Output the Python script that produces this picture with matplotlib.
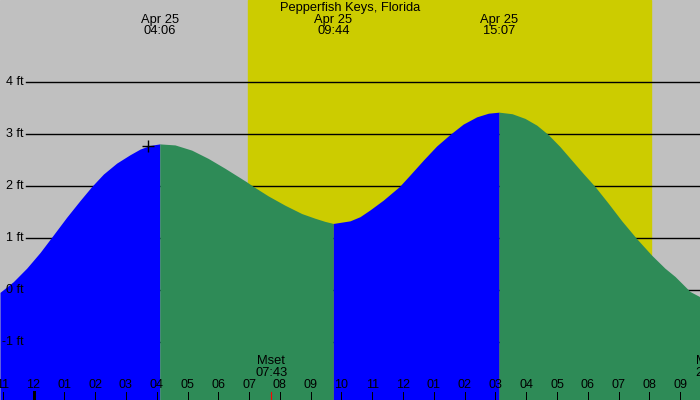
import matplotlib.pyplot as plt
import numpy as np

# tide curve (hours from midnight Apr 25, feet)
hours = [-1.088, -0.656, -0.221, 0.211, 0.557, 1.078, 1.51, 1.89, 2.27, 2.70,
         3.13, 3.46, 3.78, 4.1,
         4.594, 5.136, 5.675, 6.218, 6.92, 7.14, 7.62, 8.166, 8.71, 9.14, 9.46, 9.733,
         10.276, 10.60, 10.925, 11.36, 11.88, 12.22, 12.66, 13.09, 13.52, 13.95,
         14.39, 14.77, 15.117,
         15.54, 15.958, 16.34, 16.71, 17.09, 17.47, 17.85, 18.23, 18.66, 19.10,
         19.58, 20.07, 20.50, 20.83, 21.32, 21.64]
heights = [-0.045, 0.16, 0.42, 0.72, 0.99, 1.40, 1.72, 1.99, 2.23, 2.44,
           2.60, 2.71, 2.78, 2.81,
           2.79, 2.69, 2.53, 2.34, 2.08, 1.99, 1.81, 1.63, 1.47, 1.38, 1.32, 1.28,
           1.33, 1.41, 1.54, 1.73, 1.99, 2.21, 2.50, 2.77, 2.99, 3.19,
           3.33, 3.40, 3.42,
           3.39, 3.30, 3.17, 2.99, 2.76, 2.50, 2.24, 1.99, 1.67, 1.33,
           0.99, 0.67, 0.42, 0.26, -0.03, -0.13]

# high / low events
event_hours = [4.1, 9.733, 15.117]
event_dates = ['Apr 25', 'Apr 25', 'Apr 25']
event_times = ['04:06', '09:44', '15:07']

sunrise = 6.97
sunset = 20.05

moon_hours = [7.717, 22.03]
moon_names = ['Mset', 'Mrise']
moon_times = ['07:43', '22:02']

now_hour = 3.72
now_height = 2.77

tick_hours = list(range(-1, 22))
tick_labels = ['11', '12', '01', '02', '03', '04', '05', '06', '07', '08', '09', '10',
               '11', '12', '01', '02', '03', '04', '05', '06', '07', '08', '09']
ft_levels = [4, 3, 2, 1, 0, -1]

title = 'Pepperfish Keys, Florida'

plt.rcParams['font.family'] = ['Liberation Sans', 'DejaVu Sans']
fs = 9.3

fig = plt.figure(figsize=(7, 4), dpi=100)
ax = fig.add_axes([0, 0, 1, 1])
x0, x1 = -1.088, 21.64
y0, y1 = -2.115, 5.577
ax.set_xlim(x0, x1)
ax.set_ylim(y0, y1)
ax.axis('off')

ax.axvspan(x0, x1, color='#c0c0c0', zorder=0)
ax.axvspan(sunrise, sunset, color='#cccc00', zorder=1)

for lv in ft_levels:
    ax.axhline(lv, xmin=26 / 700, xmax=1, color='black', lw=1, zorder=2)

h = np.array(hours)
v = np.array(heights)
bounds = [x0] + event_hours + [x1]
colors = ['#0000ff', '#2e8b57', '#0000ff', '#2e8b57']
for i in range(len(bounds) - 1):
    m = (h >= bounds[i] - 1e-6) & (h <= bounds[i + 1] + 1e-6)
    ax.fill_between(h[m], v[m], y0, color=colors[i], lw=0, zorder=3)

for lv in ft_levels:
    ax.text(0.034, lv, f'{lv} ft', transform=ax.get_yaxis_transform(),
            ha='right', va='center', fontsize=9, zorder=5)

ax.plot(now_hour, now_height, marker='+', color='black', ms=8, mew=1, zorder=6)

tr = ax.get_xaxis_transform()
ax.text(0.5, 1 - 8 / 400, title, transform=ax.transAxes, ha='center', va='center', fontsize=fs)
for eh, ed, et in zip(event_hours, event_dates, event_times):
    ax.text(eh, 1 - 19.5 / 400, ed, transform=tr, ha='center', va='center', fontsize=fs)
    ax.text(eh, 1 - 31.5 / 400, et, transform=tr, ha='center', va='center', fontsize=fs)

for mh, mn, mt in zip(moon_hours, moon_names, moon_times):
    ax.text(mh, 39 / 400, mn, transform=tr, ha='center', va='center', fontsize=fs, zorder=5)
    ax.text(mh, 27 / 400, mt, transform=tr, ha='center', va='center', fontsize=fs, zorder=5)
    ax.plot([mh, mh], [0, 8 / 400], transform=tr, color='red', lw=0.8, zorder=5, clip_on=False)

for th, tl in zip(tick_hours, tick_labels):
    ax.text(th, 14.5 / 400, tl, transform=tr, ha='center', va='center', fontsize=9, zorder=5)
    w = 3 if th == 0 else 1
    ax.plot([th, th], [0, 8 / 400], transform=tr, color='black', lw=w * 0.72, zorder=5)

fig.savefig('out.png', dpi=100)
